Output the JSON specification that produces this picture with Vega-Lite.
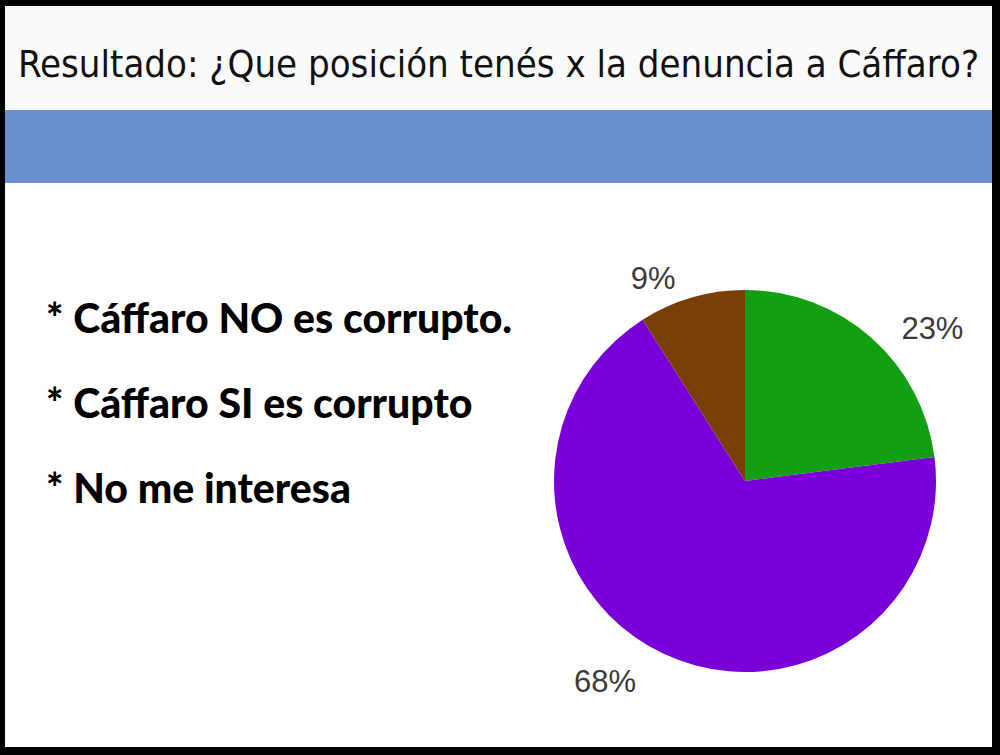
{
  "$schema": "https://vega.github.io/schema/vega-lite/v6.json",
  "background": "#000000",
  "padding": {"left": 5, "right": 8, "top": 6, "bottom": 8},
  "spacing": 0,
  "config": {"view": {"stroke": null}, "concat": {"spacing": 0}},
  "vconcat": [
    {
      "width": 987,
      "height": 104,
      "view": {"fill": "#fafafa", "stroke": null},
      "data": {"values": [{"titulo": "Resultado: ¿Que posición tenés x la denuncia a Cáffaro?"}]},
      "mark": {"type": "text", "font": "DejaVu Sans Condensed", "fontSize": 38, "color": "#111111", "baseline": "alphabetic", "dy": 19},
      "encoding": {"text": {"field": "titulo", "type": "nominal"}}
    },
    {
      "width": 987,
      "height": 73,
      "view": {"fill": "#6b8fcd", "stroke": null},
      "data": {"values": []},
      "mark": {"type": "point", "opacity": 0}
    },
    {
      "width": 987,
      "height": 564,
      "view": {"fill": "#ffffff", "stroke": null},
      "data": {"values": [
        {"opcion": "Cáffaro NO es corrupto.", "valor": 0.23},
        {"opcion": "Cáffaro SI es corrupto", "valor": 0.68},
        {"opcion": "No me interesa", "valor": 0.09}
      ]},
      "encoding": {
        "theta": {"field": "valor", "type": "quantitative", "stack": true},
        "order": {"field": "opcion", "type": "ordinal", "sort": "ascending"}
      },
      "layer": [
        {
          "mark": {"type": "arc", "outerRadius": 191, "xOffset": 246.5, "yOffset": 16, "stroke": null},
          "encoding": {
            "color": {
              "field": "opcion",
              "type": "nominal",
              "scale": {"domain": ["Cáffaro NO es corrupto.", "Cáffaro SI es corrupto", "No me interesa"], "range": ["#12a012", "#7a00d8", "#783e06"]},
              "legend": {
                "orient": "none",
                "legendX": 36,
                "legendY": 294,
                "title": null,
                "labelFont": "Lato",
                "labelFontWeight": 900,
                "labelFontSize": 41,
                "labelColor": "#000000",
                "labelExpr": "'* ' + datum.label",
                "symbolSize": 0,
                "symbolOpacity": 0,
                "symbolStrokeWidth": 0,
                "labelOffset": -36,
                "rowPadding": 43,
                "labelLimit": 700
              }
            }
          }
        },
        {
          "mark": {"type": "text", "radius": 235, "xOffset": 246.5, "yOffset": 16, "dx": 32, "dy": 25, "font": "Liberation Sans", "fontSize": 31, "color": "#3a3a3a"},
          "encoding": {
            "detail": {"field": "opcion", "type": "nominal"},
            "text": {"condition": {"test": "datum.opcion === 'Cáffaro NO es corrupto.'", "field": "valor", "format": ".0%"}, "value": ""}
          }
        },
        {
          "mark": {"type": "text", "radius": 235, "xOffset": 246.5, "yOffset": 16, "dx": -40, "dy": -11, "font": "Liberation Sans", "fontSize": 31, "color": "#3a3a3a"},
          "encoding": {
            "detail": {"field": "opcion", "type": "nominal"},
            "text": {"condition": {"test": "datum.opcion === 'Cáffaro SI es corrupto'", "field": "valor", "format": ".0%"}, "value": ""}
          }
        },
        {
          "mark": {"type": "text", "radius": 225, "xOffset": 246.5, "yOffset": 16, "dx": -29, "dy": 15, "font": "Liberation Sans", "fontSize": 31, "color": "#3a3a3a"},
          "encoding": {
            "detail": {"field": "opcion", "type": "nominal"},
            "text": {"condition": {"test": "datum.opcion === 'No me interesa'", "field": "valor", "format": ".0%"}, "value": ""}
          }
        }
      ]
    }
  ]
}
